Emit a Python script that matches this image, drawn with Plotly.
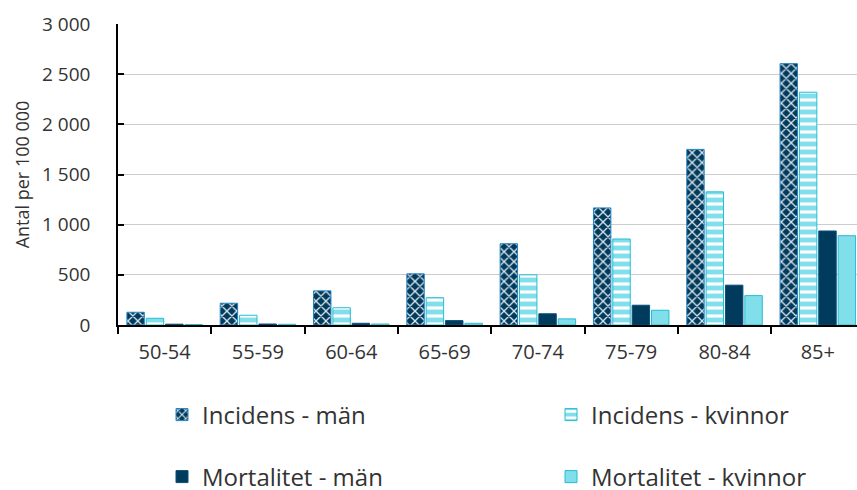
import plotly.graph_objects as go

categories = ["50-54", "55-59", "60-64", "65-69", "70-74", "75-79", "80-84", "85+"]
incidens_man = [127, 217, 340, 510, 810, 1167, 1750, 2605]
incidens_kvinnor = [67, 97, 172, 272, 500, 857, 1327, 2320]
mortalitet_man = [8, 10, 17, 44, 112, 197, 397, 937]
mortalitet_kvinnor = [5, 7, 10, 17, 61, 147, 293, 890]

y_tickvals = [0, 500, 1000, 1500, 2000, 2500, 3000]
y_ticktext = ["0", "500", "1 000", "1 500", "2 000", "2 500", "3 000"]

NAVY = "#003a5c"
CYAN = "#80dfea"
FONT = "Open Sans"
TXT = "#333333"

fig = go.Figure()
fig.add_trace(go.Bar(
    x=categories, y=incidens_man, name="Incidens - män", legend="legend",
    marker=dict(color=NAVY, line=dict(color="#2384c2", width=1),
                pattern=dict(shape="x", bgcolor=NAVY, fgcolor="#d9e3ea",
                             size=7, solidity=0.35, fillmode="replace")),
))
fig.add_trace(go.Bar(
    x=categories, y=incidens_kvinnor, name="Incidens - kvinnor", legend="legend2",
    marker=dict(color=CYAN, line=dict(color="#26bcd3", width=1),
                pattern=dict(shape="-", bgcolor=CYAN, fgcolor="#ffffff",
                             size=8, solidity=0.4, fillmode="replace")),
))
fig.add_trace(go.Bar(
    x=categories, y=mortalitet_man, name="Mortalitet - män", legend="legend3",
    marker=dict(color=NAVY, line=dict(color="#0a4f7c", width=1)),
))
fig.add_trace(go.Bar(
    x=categories, y=mortalitet_kvinnor, name="Mortalitet - kvinnor", legend="legend4",
    marker=dict(color=CYAN, line=dict(color="#26bcd3", width=1)),
))

def leg(xpx, ypx):
    return dict(
        orientation="h", xanchor="left", yanchor="middle",
        xref="container", yref="container",
        x=xpx / 857, y=(490 - ypx) / 490,
        font=dict(family=FONT, size=24, color=TXT),
        bgcolor="rgba(0,0,0,0)",
    )

fig.update_layout(
    width=857, height=490,
    margin=dict(l=118, r=0, t=24, b=165, autoexpand=False),
    paper_bgcolor="white", plot_bgcolor="white",
    barmode="group", bargap=0.17, bargroupgap=0.1,
    font=dict(family=FONT, size=15, color=TXT),
    showlegend=True,
    legend=leg(162, 415),
    legend2=leg(551, 415),
    legend3=leg(162, 477),
    legend4=leg(551, 477),
    xaxis=dict(
        type="category", range=[-0.5, 7.42], automargin=False,
        showline=True, linecolor="black", linewidth=1.5,
        ticks="outside", ticklen=7, tickcolor="black", tickwidth=1.5,
        tickson="boundaries", showgrid=False, ticklabelstandoff=8,
        tickfont=dict(family=FONT, size=20, color=TXT),
    ),
    yaxis=dict(
        range=[0, 3000], tickvals=y_tickvals, ticktext=y_ticktext,
        automargin=False, ticklabelstandoff=22,
        showline=True, linecolor="black", linewidth=1.5,
        ticks="inside", ticklen=6, tickcolor="black", tickwidth=1.5,
        showgrid=True, gridcolor="#cccccc", gridwidth=1.2,
        zeroline=False,
        tickfont=dict(family=FONT, size=19, color=TXT),
        title=dict(text="Antal per 100 000", standoff=8,
                   font=dict(family=FONT, size=18, color=TXT)),
    ),
)

fig.write_html("out.html", config={"displayModeBar": False},
               post_script="document.body.style.margin='0';")
